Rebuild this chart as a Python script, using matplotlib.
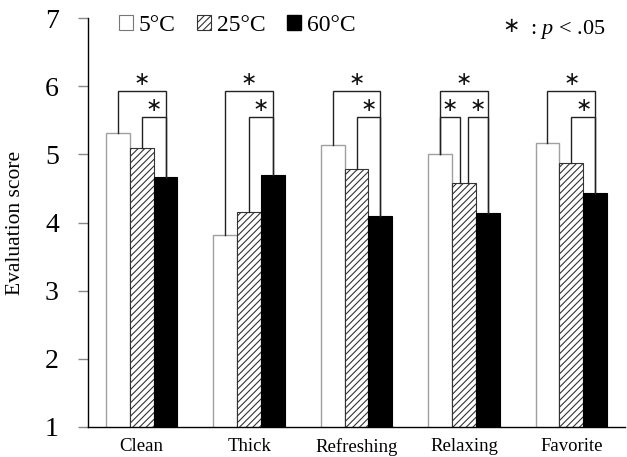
import matplotlib
matplotlib.use("Agg")
import matplotlib.pyplot as plt
from matplotlib.patches import Patch

plt.rcParams['font.family'] = ['Liberation Serif', 'DejaVu Sans']
plt.rcParams['mathtext.fontset'] = 'custom'
plt.rcParams['mathtext.it'] = 'Liberation Serif:italic'
plt.rcParams['mathtext.rm'] = 'Liberation Serif'
plt.rcParams['hatch.linewidth'] = 0.8

categories = ["Clean", "Thick", "Refreshing", "Relaxing", "Favorite"]
series_names = ["5\u00b0C", "25\u00b0C", "60\u00b0C"]
vals_5 = [5.31, 3.81, 5.14, 5.00, 5.17]
vals_25 = [5.09, 4.15, 4.79, 4.58, 4.87]
vals_60 = [4.67, 4.69, 4.10, 4.14, 4.43]
yticks = [1, 2, 3, 4, 5, 6, 7]
# significance comparisons: (category index, bar a, bar b, level) level 0 = lower, 1 = upper
sig_pairs = [
    (0, 0, 2, 1), (0, 1, 2, 0),
    (1, 0, 2, 1), (1, 1, 2, 0),
    (2, 0, 2, 1), (2, 1, 2, 0),
    (3, 0, 2, 1), (3, 0, 1, 0), (3, 1, 2, 0),
    (4, 0, 2, 1), (4, 1, 2, 0),
]
bracket_levels = [5.55, 5.93]

W, H = 627, 457
fig = plt.figure(figsize=(W / 100, H / 100), dpi=100)
ax = fig.add_axes([88/W, 1-427/H, (625-88)/W, (427-18)/H])

w = 0.222
x = list(range(len(categories)))
allvals = [vals_5, vals_25, vals_60]
styles = [
    dict(color='white', edgecolor='#a0a0a0', linewidth=1.0),
    dict(color='white', edgecolor='#333333', hatch='/////', linewidth=0.8),
    dict(color='black', edgecolor='black', linewidth=0.8),
]
for k, (vals, st) in enumerate(zip(allvals, styles)):
    xs = [xi + (k - 1) * w for xi in x]
    ax.bar(xs, vals, width=w, bottom=0, **st, zorder=2)

# brackets
gap = 0.04
for (ci, a, b, lvl) in sig_pairs:
    xa = ci + (a - 1) * w
    xb = ci + (b - 1) * w
    if ci == 3 and lvl == 0:
        if b == 1:
            xb -= gap
        if a == 1:
            xa += gap
    ya = allvals[a][ci]
    yb = allvals[b][ci]
    yl = bracket_levels[lvl]
    ax.plot([xa, xa, xb, xb], [ya, yl, yl, yb], color='#222222', lw=1.0, zorder=3,
            solid_joinstyle='miter')
    ax.text((xa + xb) / 2, yl + (0.17 if lvl == 1 else 0.16), "\u2217", ha='center', va='center',
            fontsize=14, family='DejaVu Sans', color='#111111')

ax.set_xlim(-0.5, 4.5)
ax.set_ylim(1, 7)
ax.set_yticks(yticks)
ax.set_yticklabels([str(t) for t in yticks], fontsize=20)
ax.set_xticks(x)
ax.set_xticklabels(categories, fontsize=13.5)
ax.tick_params(axis='x', length=0, pad=8)
ax.tick_params(axis='y', length=7, width=1, color='#888888', pad=14)
for s in ['top', 'right']:
    ax.spines[s].set_visible(False)
ax.spines['left'].set_linewidth(1.0)
ax.spines['bottom'].set_linewidth(1.0)
ax.set_ylabel("Evaluation score", fontsize=15.5)
ax.yaxis.set_label_coords((25 - 88) / 537, 0.5)

handles = [Patch(facecolor='white', edgecolor='#777777', lw=0.8),
           Patch(facecolor='white', edgecolor='#333333', hatch='/////', lw=0.8),
           Patch(facecolor='black', edgecolor='black')]
leg = ax.legend(handles, series_names, loc='upper left', bbox_to_anchor=(0.04, 1.03),
                ncol=3, frameon=False, fontsize=17, handlelength=0.6, handleheight=0.6,
                handletextpad=0.25, columnspacing=0.9, borderaxespad=0)

fig.text(511 / W, 1 - 26 / H, "\u2217", ha='center', va='center', fontsize=15,
         family='DejaVu Sans', color='#111111')
fig.text(605 / W, 1 - 34 / H, ": $\\it{p}$ < .05", ha='right', va='baseline', fontsize=16)

fig.savefig("out.png", dpi=100)
